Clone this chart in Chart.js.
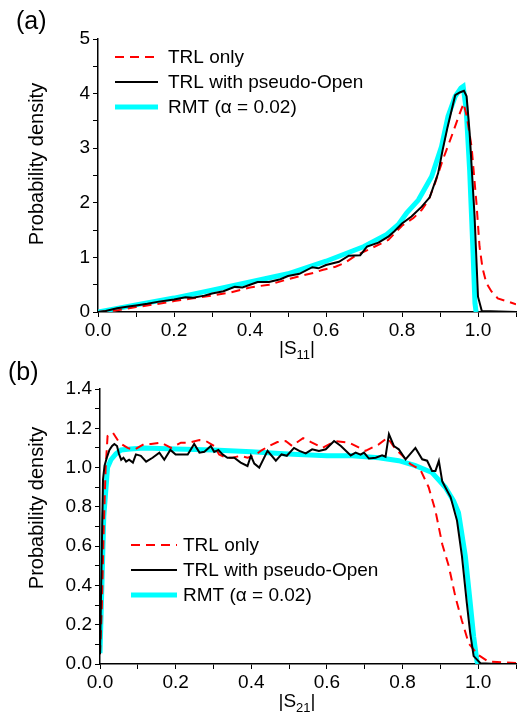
<!DOCTYPE html>
<html>
<head>
<meta charset="utf-8">
<script src="https://cdn.jsdelivr.net/npm/chart.js@4.4.0/dist/chart.umd.min.js"></script>
<style>
  html, body { margin: 0; padding: 0; background: #fff; }
  .panel { position: absolute; left: 0; width: 518px; height: 360px; }
</style>
</head>
<body>
<div class="panel" style="top:0"><canvas id="chartA" width="518" height="360"></canvas></div>
<div class="panel" style="top:360px"><canvas id="chartB" width="518" height="360"></canvas></div>
<script>
// series labels (shared by both panels)
const seriesLabels = ['TRL only', 'TRL with pseudo-Open', 'RMT (\u03b1 = 0.02)'];

// panel (a): distribution of |S11|
const a_trlX = [0, 0.05, 0.1, 0.15, 0.2, 0.25, 0.3, 0.35, 0.4, 0.45, 0.5, 0.538, 0.57, 0.59, 0.625, 0.65, 0.677, 0.72, 0.764, 0.8, 0.83, 0.852, 0.87, 0.887, 0.907, 0.93, 0.95, 0.962, 0.97, 0.983, 0.996, 1.004, 1.012, 1.022, 1.035, 1.052, 1.079, 1.1];
const a_trlY = [0, 0.03, 0.09, 0.14, 0.2, 0.25, 0.3, 0.36, 0.45, 0.5, 0.6, 0.67, 0.72, 0.77, 0.83, 0.9, 1.03, 1.17, 1.32, 1.58, 1.72, 1.87, 2.05, 2.36, 2.78, 3.21, 3.6, 3.82, 3.6, 3.03, 1.99, 1.2, 0.8, 0.53, 0.38, 0.25, 0.19, 0.14];
const a_openX = [0, 0.02, 0.05, 0.08, 0.1, 0.13, 0.16, 0.2, 0.23, 0.25, 0.28, 0.3, 0.33, 0.36, 0.38, 0.4, 0.42, 0.45, 0.48, 0.5, 0.53, 0.564, 0.58, 0.6, 0.634, 0.66, 0.69, 0.708, 0.738, 0.764, 0.78, 0.8, 0.825, 0.852, 0.873, 0.895, 0.907, 0.92, 0.94, 0.952, 0.963, 0.97, 0.978, 0.991, 1.0, 1.01, 1.1];
const a_openY = [0, 0.02, 0.07, 0.1, 0.12, 0.15, 0.19, 0.23, 0.27, 0.26, 0.3, 0.34, 0.38, 0.46, 0.45, 0.5, 0.55, 0.55, 0.6, 0.66, 0.7, 0.82, 0.8, 0.86, 0.92, 1.03, 1.04, 1.2, 1.27, 1.38, 1.48, 1.62, 1.75, 1.93, 2.1, 2.54, 2.97, 3.39, 3.97, 4.02, 4.05, 3.95, 3.28, 1.75, 0.28, 0.02, 0];
const a_rmtX = [0, 0.1, 0.2, 0.3, 0.4, 0.5, 0.6, 0.7, 0.76, 0.79, 0.812, 0.843, 0.878, 0.904, 0.921, 0.94, 0.955, 0.961, 0.969, 0.978, 0.987, 0.992, 0.995];
const a_rmtY = [0, 0.13, 0.255, 0.4, 0.55, 0.7, 0.93, 1.2, 1.42, 1.6, 1.81, 2.05, 2.48, 3.03, 3.58, 3.95, 4.1, 4.13, 3.7, 2.6, 1.08, 0.16, 0];

// panel (b): distribution of |S21|
const b_trlX = [0, 0.005, 0.01, 0.015, 0.02, 0.034, 0.051, 0.073, 0.09, 0.117, 0.135, 0.161, 0.188, 0.214, 0.236, 0.263, 0.28, 0.302, 0.315, 0.333, 0.35, 0.372, 0.39, 0.408, 0.425, 0.447, 0.469, 0.491, 0.508, 0.526, 0.537, 0.558, 0.588, 0.623, 0.658, 0.702, 0.737, 0.76, 0.782, 0.8, 0.821, 0.847, 0.869, 0.887, 0.905, 0.922, 0.94, 0.957, 0.975, 1.0, 1.027, 1.05, 1.1];
const b_trlY = [0.05, 0.3, 0.7, 1.0, 1.16, 1.178, 1.127, 1.1, 1.09, 1.12, 1.12, 1.127, 1.1, 1.127, 1.127, 1.14, 1.135, 1.11, 1.067, 1.05, 1.05, 1.06, 1.05, 1.06, 1.085, 1.11, 1.13, 1.135, 1.11, 1.135, 1.15, 1.13, 1.1, 1.135, 1.127, 1.085, 1.118, 1.152, 1.093, 1.06, 1.017, 0.99, 0.9, 0.78, 0.61, 0.5, 0.34, 0.22, 0.105, 0.046, 0.012, 0.01, 0.005];
const b_openX = [0, 0.004, 0.008, 0.012, 0.018, 0.025, 0.032, 0.038, 0.045, 0.05, 0.056, 0.062, 0.069, 0.077, 0.087, 0.095, 0.108, 0.122, 0.139, 0.157, 0.17, 0.186, 0.2, 0.216, 0.232, 0.249, 0.263, 0.276, 0.293, 0.302, 0.313, 0.324, 0.337, 0.355, 0.372, 0.39, 0.399, 0.408, 0.421, 0.443, 0.465, 0.48, 0.494, 0.513, 0.527, 0.544, 0.561, 0.579, 0.597, 0.619, 0.637, 0.663, 0.676, 0.689, 0.698, 0.711, 0.729, 0.746, 0.755, 0.764, 0.777, 0.79, 0.808, 0.834, 0.852, 0.865, 0.878, 0.887, 0.896, 0.905, 0.913, 0.927, 0.944, 0.957, 0.97, 0.979, 0.988, 1.006, 1.05, 1.1];
const b_openY = [0.05, 0.5, 0.94, 1.01, 1.05, 1.09, 1.11, 1.12, 1.11, 1.07, 1.04, 1.05, 1.03, 1.04, 1.025, 1.067, 1.06, 1.03, 1.05, 1.076, 1.04, 1.09, 1.067, 1.067, 1.067, 1.12, 1.076, 1.08, 1.11, 1.08, 1.09, 1.067, 1.05, 1.05, 1.025, 1.008, 1.06, 1.02, 1.0, 1.085, 1.035, 1.067, 1.06, 1.1, 1.085, 1.072, 1.093, 1.085, 1.093, 1.135, 1.11, 1.062, 1.076, 1.066, 1.076, 1.046, 1.05, 1.062, 1.055, 1.17, 1.11, 1.093, 1.042, 1.1, 1.042, 1.035, 0.983, 0.983, 1.034, 0.93, 0.9, 0.85, 0.73, 0.55, 0.31, 0.156, 0.04, 0.004, 0, 0];
const b_rmtX = [0, 0.005, 0.01, 0.02, 0.029, 0.042, 0.056, 0.08, 0.117, 0.2, 0.3, 0.4, 0.51, 0.6, 0.667, 0.737, 0.79, 0.834, 0.878, 0.913, 0.935, 0.948, 0.966, 0.979, 0.988, 0.997, 1.0];
const b_rmtY = [0.055, 0.4, 0.75, 1.0, 1.04, 1.07, 1.09, 1.095, 1.1, 1.095, 1.09, 1.08, 1.068, 1.06, 1.06, 1.05, 1.035, 1.01, 0.975, 0.9, 0.83, 0.77, 0.55, 0.31, 0.14, 0.012, 0];

const FONT = "'Liberation Sans', Arial, Helvetica, sans-serif";

const toPoints = (xs, ys) => xs.map((x, i) => ({ x: x, y: ys[i] }));

// legend drawn inside the plot: short line sample + text
const lineLegend = {
    id: 'lineLegend',
    afterDatasetsDraw(chart, args, opts) {
        const ctx = chart.ctx;
        ctx.save();
        chart.data.datasets.forEach((ds, i) => {
            const y = opts.y + i * opts.rowGap;
            ctx.beginPath();
            ctx.strokeStyle = ds.borderColor;
            ctx.lineWidth = ds.borderWidth;
            ctx.setLineDash(ds.borderDash || []);
            ctx.moveTo(opts.x, y);
            ctx.lineTo(opts.x + opts.lineLen, y);
            ctx.stroke();
            ctx.setLineDash([]);
            ctx.fillStyle = '#000';
            ctx.font = '19px ' + FONT;
            ctx.textBaseline = 'middle';
            ctx.fillText(ds.label, opts.x + opts.lineLen + opts.textGap, y + 1);
        });
        ctx.restore();
    }
};

// panel letter, rotated y title and |S_ij| x title with subscript
const panelText = {
    id: 'panelText',
    afterDraw(chart, args, opts) {
        const ctx = chart.ctx;
        ctx.save();
        ctx.fillStyle = '#000';
        ctx.textBaseline = 'alphabetic';

        ctx.font = '25px ' + FONT;
        ctx.textAlign = 'left';
        ctx.fillText(opts.letter, opts.letterX, opts.letterY);

        ctx.save();
        ctx.translate(opts.yTitleX, opts.yTitleY);
        ctx.rotate(-Math.PI / 2);
        ctx.font = '20px ' + FONT;
        ctx.textAlign = 'center';
        ctx.textBaseline = 'middle';
        ctx.fillText('Probability density', 0, 0);
        ctx.restore();

        const big = '19px ' + FONT, small = '13px ' + FONT;
        ctx.font = big;
        const w1 = ctx.measureText('|S').width;
        const w3 = ctx.measureText('|').width;
        ctx.font = small;
        const w2 = ctx.measureText(opts.sub).width;
        let x = opts.xTitleX - (w1 + w2 + w3) / 2;
        ctx.textAlign = 'left';
        ctx.font = big;
        ctx.fillText('|S', x, opts.xTitleY);
        x += w1;
        ctx.font = small;
        ctx.fillText(opts.sub, x, opts.xTitleY + 5);
        x += w2;
        ctx.font = big;
        ctx.fillText('|', x, opts.xTitleY);
        ctx.restore();
    }
};

function buildPanel(canvasId, p) {
    const ctx = document.getElementById(canvasId).getContext('2d');
    const tickFont = { family: FONT, size: 19 };
    return new Chart(ctx, {
        type: 'line',
        data: {
            datasets: [
                { label: seriesLabels[0], data: toPoints(p.trlX, p.trlY), borderColor: '#ff0000', borderWidth: 2, borderDash: [9, 6], order: 1 },
                { label: seriesLabels[1], data: toPoints(p.openX, p.openY), borderColor: '#000000', borderWidth: 2, order: 0 },
                { label: seriesLabels[2], data: toPoints(p.rmtX, p.rmtY), borderColor: '#00ffff', borderWidth: 5, order: 2 }
            ]
        },
        options: {
            responsive: false,
            animation: false,
            devicePixelRatio: 1,
            layout: { padding: { top: p.padTop, right: 1, left: 0, bottom: 0 } },
            elements: { point: { radius: 0 }, line: { tension: 0, fill: false } },
            plugins: {
                legend: { display: false },
                tooltip: { enabled: false },
                lineLegend: p.legend,
                panelText: p.text
            },
            scales: {
                x: {
                    type: 'linear', min: 0, max: 1.1,
                    afterFit: s => { s.height = p.xHeight; },
                    border: { color: '#000', width: 1.5 },
                    grid: { drawOnChartArea: false, tickLength: 5, tickColor: '#000', tickWidth: 1 },
                    ticks: {
                        stepSize: 0.1, autoSkip: false, maxRotation: 0, color: '#000', font: tickFont, padding: 2,
                        callback: v => (Math.round(v * 10) % 2 === 0 ? v.toFixed(1) : '')
                    }
                },
                y: {
                    min: 0, max: p.yMax,
                    afterFit: s => { s.width = p.yWidth; },
                    border: { color: '#000', width: 1.5 },
                    grid: { drawOnChartArea: false, tickLength: 5, tickColor: '#000', tickWidth: 1 },
                    ticks: {
                        stepSize: p.yStep, autoSkip: false, color: '#000', font: tickFont, padding: 3,
                        callback: p.yLabel
                    }
                }
            }
        },
        plugins: [lineLegend, panelText]
    });
}

buildPanel('chartA', {
    trlX: a_trlX, trlY: a_trlY, openX: a_openX, openY: a_openY, rmtX: a_rmtX, rmtY: a_rmtY,
    yMax: 5, yStep: 0.5,
    yLabel: v => (Math.abs(v - Math.round(v)) < 1e-6 ? String(Math.round(v)) : ''),
    padTop: 39, xHeight: 48, yWidth: 98,
    legend: { x: 115, y: 57, rowGap: 25, lineLen: 43, textGap: 10 },
    text: { letter: '(a)', letterX: 16, letterY: 29, yTitleX: 37, yTitleY: 164, sub: '11', xTitleX: 297, xTitleY: 354 }
});

buildPanel('chartB', {
    trlX: b_trlX, trlY: b_trlY, openX: b_openX, openY: b_openY, rmtX: b_rmtX, rmtY: b_rmtY,
    yMax: 1.4, yStep: 0.1,
    yLabel: v => (Math.round(v * 10) % 2 === 0 ? v.toFixed(1) : ''),
    padTop: 29, xHeight: 56, yWidth: 100,
    legend: { x: 131, y: 185, rowGap: 25, lineLen: 46, textGap: 6 },
    text: { letter: '(b)', letterX: 8, letterY: 20, yTitleX: 37, yTitleY: 148, sub: '21', xTitleX: 297, xTitleY: 347 }
});
</script>
</body>
</html>
